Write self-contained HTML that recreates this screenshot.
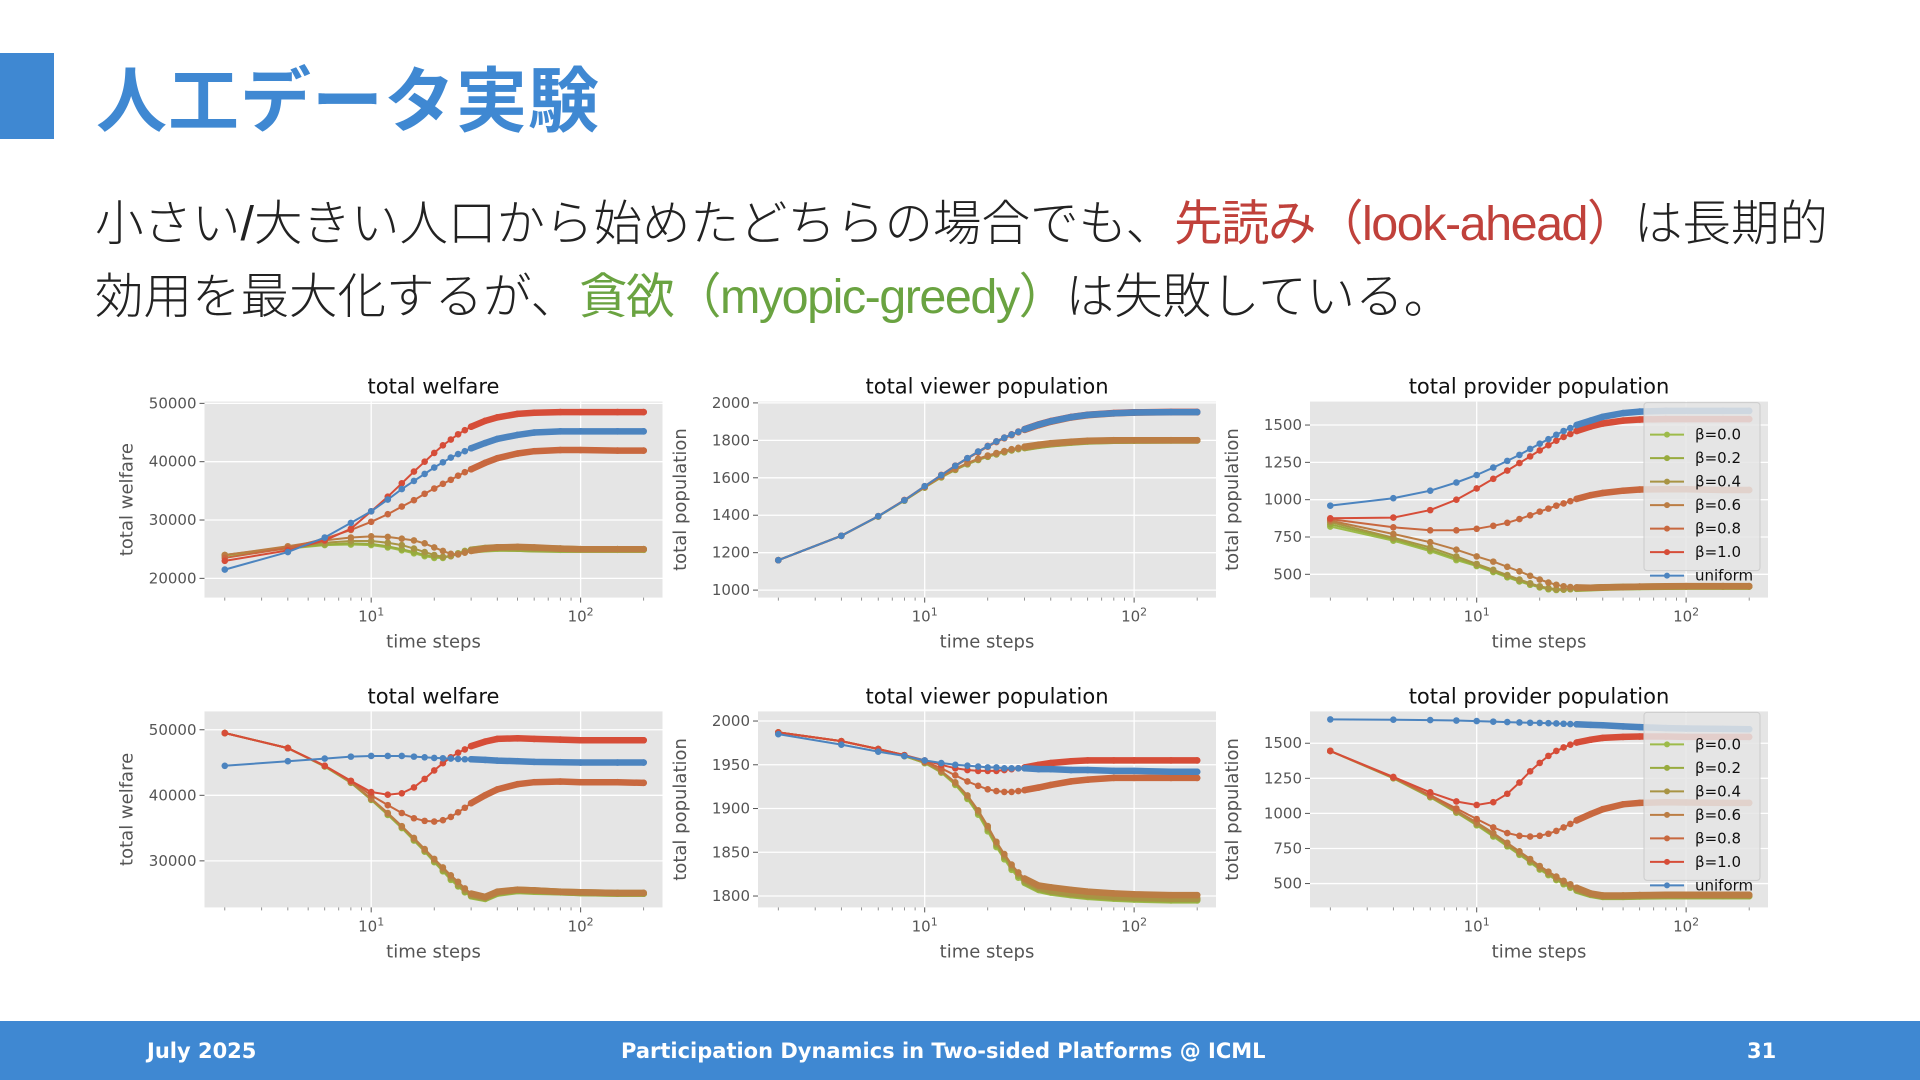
<!DOCTYPE html>
<html><head><meta charset="utf-8">
<style>
html,body{margin:0;padding:0;}
body{width:1920px;height:1080px;position:relative;overflow:hidden;background:#fff;font-family:"Liberation Sans","Noto Sans CJK JP",sans-serif;}
#blk{position:absolute;left:0;top:53px;width:54px;height:86px;background:#3f88d2;}
#title{position:absolute;left:96px;top:54px;font-size:71px;line-height:84px;color:#3f88d2;font-weight:bold;font-family:"Noto Sans CJK JP",sans-serif;letter-spacing:1px;}
.body{position:absolute;left:95px;font-size:48.5px;line-height:62px;color:#222;font-weight:300;font-family:"Liberation Sans","Noto Sans CJK JP",sans-serif;white-space:nowrap;}
.red{color:#c0413b;font-weight:400;letter-spacing:-1.5px;}
.grn{color:#6aa341;font-weight:400;letter-spacing:-1.5px;}
#footer{position:absolute;left:0;top:1021px;width:1920px;height:59px;background:#3f88d2;color:#fff;font-weight:bold;font-size:21px;font-family:"DejaVu Sans","Liberation Sans",sans-serif;}
#footer span{position:absolute;top:18px;}
svg{position:absolute;left:0;top:0;}
</style></head><body>
<div id="blk"></div>
<div id="title">人工データ実験</div>
<div class="body" style="top:193px">小さい/大きい人口から始めたどちらの場合でも、<span class="red">先読み（look-ahead）</span>は長期的</div>
<div class="body" style="top:266px">効用を最大化するが、<span class="grn">貪欲（myopic-greedy）</span>は失敗している。</div>
<svg id="charts" width="1920" height="1080"></svg>
<div id="footer">
<span style="left:147px">July 2025</span>
<span style="left:621px">Participation Dynamics in Two-sided Platforms @ ICML</span>
<span style="left:1747px">31</span>
</div>
<script>
const T = [2,4,6,8,10,12,14,16,18,20,22,24,26,28,30,35,40,50,60,80,100,150,200];
const seriesNames = ["β=0.0","β=0.2","β=0.4","β=0.6","β=0.8","β=1.0","uniform"];
const seriesColors = ["#9dbb4a","#98ab3e","#a89444","#bb7d44","#c8683f","#d64d38","#4c84bf"];

const welfareSmall_b00 = [23900,25100,25700,25800,25700,25300,24800,24300,23800,23500,23500,23800,24200,24600,24800,25000,25100,25100,25000,24900,24900,24900,24900];
const welfareSmall_b02 = [24000,25200,25800,26000,25900,25500,25000,24500,24000,23700,23600,23900,24300,24700,24900,25100,25200,25100,25000,25000,25000,25000,25000];
const welfareSmall_b04 = [24000,25400,26100,26400,26400,26100,25700,25100,24500,24000,23700,23800,24200,24600,24900,25200,25300,25300,25200,25100,25000,25000,25000];
const welfareSmall_b06 = [24000,25500,26500,27000,27200,27100,26800,26500,26000,25300,24700,24200,24100,24400,24700,25100,25300,25400,25300,25100,25000,25000,25000];
const welfareSmall_b08 = [23500,25200,26800,28300,29700,31000,32300,33400,34500,35400,36200,36900,37600,38200,38700,39800,40600,41400,41800,42000,42000,41900,41900];
const welfareSmall_b10 = [23000,24800,26500,28500,31500,34000,36300,38300,40000,41500,42800,43800,44700,45400,46000,47000,47600,48200,48400,48500,48500,48500,48500];
const welfareSmall_uni = [21500,24500,27000,29500,31500,33500,35300,36700,37900,39000,39900,40700,41300,41800,42300,43200,43900,44600,45000,45200,45200,45200,45200];

const viewerSmall_b00 = [1160,1290,1393,1478,1548,1602,1642,1672,1695,1712,1725,1736,1746,1753,1759,1771,1779,1788,1794,1798,1799,1800,1800];
const viewerSmall_b02 = [1160,1290,1393,1478,1548,1603,1643,1673,1696,1713,1726,1737,1747,1754,1760,1772,1780,1789,1795,1798,1799,1800,1800];
const viewerSmall_b04 = [1160,1290,1394,1479,1549,1604,1644,1674,1697,1714,1727,1738,1748,1755,1761,1773,1781,1790,1796,1799,1800,1800,1800];
const viewerSmall_b06 = [1160,1290,1395,1480,1551,1607,1648,1679,1702,1719,1732,1743,1753,1760,1766,1777,1785,1793,1798,1801,1801,1801,1801];
const viewerSmall_b08 = [1160,1290,1395,1481,1554,1613,1662,1702,1736,1766,1791,1811,1828,1843,1856,1881,1899,1922,1934,1944,1948,1950,1950];
const viewerSmall_b10 = [1160,1290,1395,1481,1555,1615,1665,1705,1740,1770,1795,1815,1832,1847,1860,1885,1903,1925,1937,1946,1950,1952,1952];
const viewerSmall_uni = [1160,1290,1395,1480,1555,1614,1664,1705,1740,1769,1794,1814,1831,1846,1859,1884,1902,1924,1936,1945,1949,1951,1951];

const providerSmall_b00 = [820,725,655,595,555,515,480,452,430,412,400,395,397,400,403,407,410,413,415,417,418,418,418];
const providerSmall_b02 = [835,735,665,605,560,520,485,455,432,415,403,397,398,402,405,409,412,415,417,418,419,419,419];
const providerSmall_b04 = [850,745,680,620,570,530,495,465,440,420,408,400,400,403,407,410,413,415,417,418,419,419,419];
const providerSmall_b06 = [860,770,715,665,620,585,550,520,490,465,445,430,420,415,412,410,412,415,418,420,421,421,421];
const providerSmall_b08 = [870,815,795,795,805,825,845,870,895,920,940,960,975,990,1005,1030,1045,1060,1068,1070,1070,1065,1065];
const providerSmall_b10 = [875,880,930,1000,1075,1140,1195,1245,1290,1330,1365,1395,1420,1440,1460,1490,1510,1530,1537,1540,1540,1540,1540];
const providerSmall_uni = [960,1010,1060,1115,1165,1215,1260,1300,1340,1375,1405,1435,1460,1480,1500,1530,1555,1580,1590,1595,1595,1595,1595];

const welfareLarge_b00 = [49500,47200,44400,41900,39300,37000,35000,33100,31400,29800,28400,27100,26100,25200,24600,24200,25000,25400,25300,25200,25100,25000,25000];
const welfareLarge_b02 = [49500,47200,44400,41950,39350,37100,35100,33200,31500,29900,28500,27300,26200,25300,24700,24300,25100,25500,25400,25200,25100,25000,25000];
const welfareLarge_b04 = [49500,47200,44450,42000,39400,37200,35200,33300,31600,30100,28700,27500,26400,25500,24800,24400,25200,25600,25500,25300,25200,25100,25100];
const welfareLarge_b06 = [49500,47200,44500,42000,39500,37300,35300,33500,31800,30300,29000,27800,26800,25800,25000,24500,25300,25600,25500,25300,25200,25100,25100];
const welfareLarge_b08 = [49500,47200,44500,42200,40000,38500,37300,36500,36100,36000,36200,36700,37400,38100,38800,40000,40900,41700,42000,42100,42000,42000,41900];
const welfareLarge_b10 = [49500,47200,44500,42200,40500,40100,40300,41200,42500,43800,44900,45800,46500,47000,47500,48200,48600,48700,48600,48500,48400,48400,48400];
const welfareLarge_uni = [44500,45200,45600,45900,46000,46000,46000,45900,45800,45700,45650,45600,45550,45500,45500,45400,45300,45200,45100,45050,45000,45000,45000];

const viewerLarge_b00 = [1987,1977,1968,1960,1952,1941,1927,1911,1893,1874,1856,1842,1830,1821,1815,1807,1804,1801,1799,1797,1796,1795,1795];
const viewerLarge_b02 = [1987,1977,1968,1960,1952,1942,1928,1912,1895,1876,1858,1844,1832,1823,1816,1808,1805,1802,1800,1798,1797,1796,1796];
const viewerLarge_b04 = [1987,1977,1968,1961,1953,1942,1929,1914,1896,1878,1860,1846,1834,1825,1818,1810,1806,1803,1801,1799,1798,1797,1797];
const viewerLarge_b06 = [1987,1977,1968,1961,1953,1943,1930,1915,1898,1880,1862,1848,1836,1827,1820,1812,1810,1807,1805,1803,1802,1801,1801];
const viewerLarge_b08 = [1987,1977,1968,1961,1954,1946,1938,1931,1926,1922,1920,1919,1919,1920,1921,1924,1927,1931,1933,1935,1935,1935,1935];
const viewerLarge_b10 = [1987,1977,1968,1961,1955,1950,1946,1944,1943,1943,1943,1944,1945,1946,1947,1950,1952,1954,1955,1955,1955,1955,1955];
const viewerLarge_uni = [1985,1973,1965,1960,1955,1952,1950,1949,1948,1947,1947,1946,1946,1946,1946,1945,1945,1944,1944,1943,1943,1942,1942];

const providerLarge_b00 = [1445,1250,1115,1005,915,835,765,705,650,600,560,525,495,470,450,420,405,405,408,410,410,410,410];
const providerLarge_b02 = [1445,1252,1118,1008,920,840,770,710,655,605,565,530,500,475,455,423,407,407,410,412,412,412,412];
const providerLarge_b04 = [1445,1253,1120,1012,925,848,778,718,662,612,572,537,507,482,460,427,410,410,413,415,415,415,415];
const providerLarge_b06 = [1445,1255,1125,1020,935,860,790,730,675,625,585,550,520,495,470,430,415,415,418,420,420,420,420];
const providerLarge_b08 = [1445,1255,1130,1035,960,900,860,840,835,840,855,875,900,925,950,995,1030,1065,1075,1080,1078,1075,1075];
const providerLarge_b10 = [1445,1260,1150,1085,1060,1080,1140,1220,1300,1360,1410,1445,1470,1490,1505,1525,1538,1545,1548,1548,1545,1545,1545];
const providerLarge_uni = [1670,1668,1665,1662,1658,1654,1651,1648,1646,1645,1643,1641,1639,1637,1635,1631,1628,1620,1615,1608,1605,1602,1600];

const ticksWelfareSmall = [20000,30000,40000,50000];
const ticksViewerSmall = [1000,1200,1400,1600,1800,2000];
const ticksProvider = [500,750,1000,1250,1500];
const ticksWelfareLarge = [30000,40000,50000];
const ticksViewerLarge = [1800,1850,1900,1950,2000];
const xTickLabels = ["1","2"];

const NS = "http://www.w3.org/2000/svg";
const svg = document.getElementById('charts');
function mk(tag, attrs, parent){const e=document.createElementNS(NS,tag);for(const k in attrs)e.setAttribute(k,attrs[k]);(parent||svg).appendChild(e);return e;}

const colX = [204.5, 758, 1310];
const rowY = [401.6, 711.4];
const PW = 458, PH = 196;
const panels = [
 {c:0,r:0,title:"total welfare",ylab:"total welfare",dom:[16700,50300],ticks:ticksWelfareSmall,data:[welfareSmall_b00,welfareSmall_b02,welfareSmall_b04,welfareSmall_b06,welfareSmall_b08,welfareSmall_b10,welfareSmall_uni],legend:false},
 {c:1,r:0,title:"total viewer population",ylab:"total population",dom:[960,2007],ticks:ticksViewerSmall,data:[viewerSmall_b00,viewerSmall_b02,viewerSmall_b04,viewerSmall_b06,viewerSmall_b08,viewerSmall_b10,viewerSmall_uni],legend:false},
 {c:2,r:0,title:"total provider population",ylab:"total population",dom:[344,1657],ticks:ticksProvider,data:[providerSmall_b00,providerSmall_b02,providerSmall_b04,providerSmall_b06,providerSmall_b08,providerSmall_b10,providerSmall_uni],legend:true},
 {c:0,r:1,title:"total welfare",ylab:"total welfare",dom:[22900,52800],ticks:ticksWelfareLarge,data:[welfareLarge_b00,welfareLarge_b02,welfareLarge_b04,welfareLarge_b06,welfareLarge_b08,welfareLarge_b10,welfareLarge_uni],legend:false},
 {c:1,r:1,title:"total viewer population",ylab:"total population",dom:[1787,2011],ticks:ticksViewerLarge,data:[viewerLarge_b00,viewerLarge_b02,viewerLarge_b04,viewerLarge_b06,viewerLarge_b08,viewerLarge_b10,viewerLarge_uni],legend:false},
 {c:2,r:1,title:"total provider population",ylab:"total population",dom:[330,1727],ticks:ticksProvider,data:[providerLarge_b00,providerLarge_b02,providerLarge_b04,providerLarge_b06,providerLarge_b08,providerLarge_b10,providerLarge_uni],legend:true}
];
const LX0 = Math.log10(1.6), LX1 = Math.log10(246);

panels.forEach((p,pi)=>{
  const x0=colX[p.c], y0=rowY[p.r];
  const xs = t => x0 + (Math.log10(t)-LX0)/(LX1-LX0)*PW;
  const ys = v => y0 + PH - (v-p.dom[0])/(p.dom[1]-p.dom[0])*PH;
  const g = mk('g',{});
  
  
  const bg = mk('rect',{x:x0,y:y0,width:PW,height:PH,fill:'#e5e5e5'},g);
  
  
  p.ticks.forEach(v=>{
    const y=ys(v);
    mk('line',{x1:x0,x2:x0+PW,y1:y,y2:y,stroke:'#fff','stroke-width':1.3},g);
    mk('line',{x1:x0-5,x2:x0,y1:y,y2:y,stroke:'#555','stroke-width':1},g);
    const tl = mk('text',{x:x0-8,y:y+5,'text-anchor':'end','font-size':15,fill:'#555','font-family':'DejaVu Sans, sans-serif'},g);
    tl.textContent = v;
    
    
  });
  [10,100].forEach((t,i)=>{
    const x=xs(t);
    mk('line',{x1:x,x2:x,y1:y0,y2:y0+PH,stroke:'#fff','stroke-width':1.3},g);
    mk('line',{x1:x,x2:x,y1:y0+PH,y2:y0+PH+5,stroke:'#555','stroke-width':1},g);
    const tl = mk('text',{x:x,y:y0+PH+24,'text-anchor':'middle','font-size':15,fill:'#555','font-family':'DejaVu Sans, sans-serif'},g);
    tl.textContent='10';
    const sup=mk('tspan',{dy:-6,'font-size':11},tl);sup.textContent=xTickLabels[i];
    
    
  });
  [2,3,4,5,6,7,8,9,20,30,40,50,60,70,80,90,200].forEach(t=>{
    const x=xs(t);
    mk('line',{x1:x,x2:x,y1:y0+PH,y2:y0+PH+3,stroke:'#777','stroke-width':0.8},g);
  });
  const tt = mk('text',{x:x0+PW/2,y:y0-8,'text-anchor':'middle','font-size':21,fill:'#111','font-family':'DejaVu Sans, sans-serif'},g);
  tt.textContent=p.title;
  
  
  const xl = mk('text',{x:x0+PW/2,y:y0+PH+50,'text-anchor':'middle','font-size':18,fill:'#555','font-family':'DejaVu Sans, sans-serif'},g);
  xl.textContent='time steps';
  
  
  const yl = mk('text',{x:0,y:0,'text-anchor':'middle','font-size':18,fill:'#555','font-family':'DejaVu Sans, sans-serif',transform:`translate(${x0-72},${y0+PH/2}) rotate(-90)`},g);
  yl.textContent=p.ylab;
  
  
  p.data.forEach((arr,si)=>{
    const col=seriesColors[si];
    const sg=mk('g',{},g);
    
    
    const pts=arr.map((v,i)=>xs(T[i]).toFixed(1)+','+ys(v).toFixed(1));
    mk('polyline',{points:pts.join(' '),fill:'none',stroke:col,'stroke-width':2},sg);
    const thick=arr.map((v,i)=>T[i]>=30?xs(T[i]).toFixed(1)+','+ys(v).toFixed(1):null).filter(s=>s);
    mk('polyline',{points:thick.join(' '),fill:'none',stroke:col,'stroke-width':6.5,'stroke-linecap':'round'},sg);
    arr.forEach((v,i)=>{
      const m=mk('circle',{cx:xs(T[i]),cy:ys(v),r:3.3,fill:col},sg);
      
      
    });
  });
  if(p.legend){
    const lg=mk('g',{},g);
    
    
    const ly=y0+18;
    mk('rect',{x:1644,y:ly-17,width:116,height:168,fill:'#e5e5e5','fill-opacity':0.85,stroke:'#ccc','stroke-width':1,rx:3},lg);
    seriesNames.forEach((n,si)=>{
      const yy=ly+15+si*23.5;
      const eg=mk('g',{},lg);
      
      
      mk('line',{x1:1650,x2:1684,y1:yy,y2:yy,stroke:seriesColors[si],'stroke-width':2},eg);
      mk('circle',{cx:1667,cy:yy,r:3,fill:seriesColors[si]},eg);
      const t=mk('text',{x:1695,y:yy+5,'font-size':15,fill:'#111','font-family':'DejaVu Sans, sans-serif'},eg);
      t.textContent=n;
    });
  }
});
</script>
</body></html>
